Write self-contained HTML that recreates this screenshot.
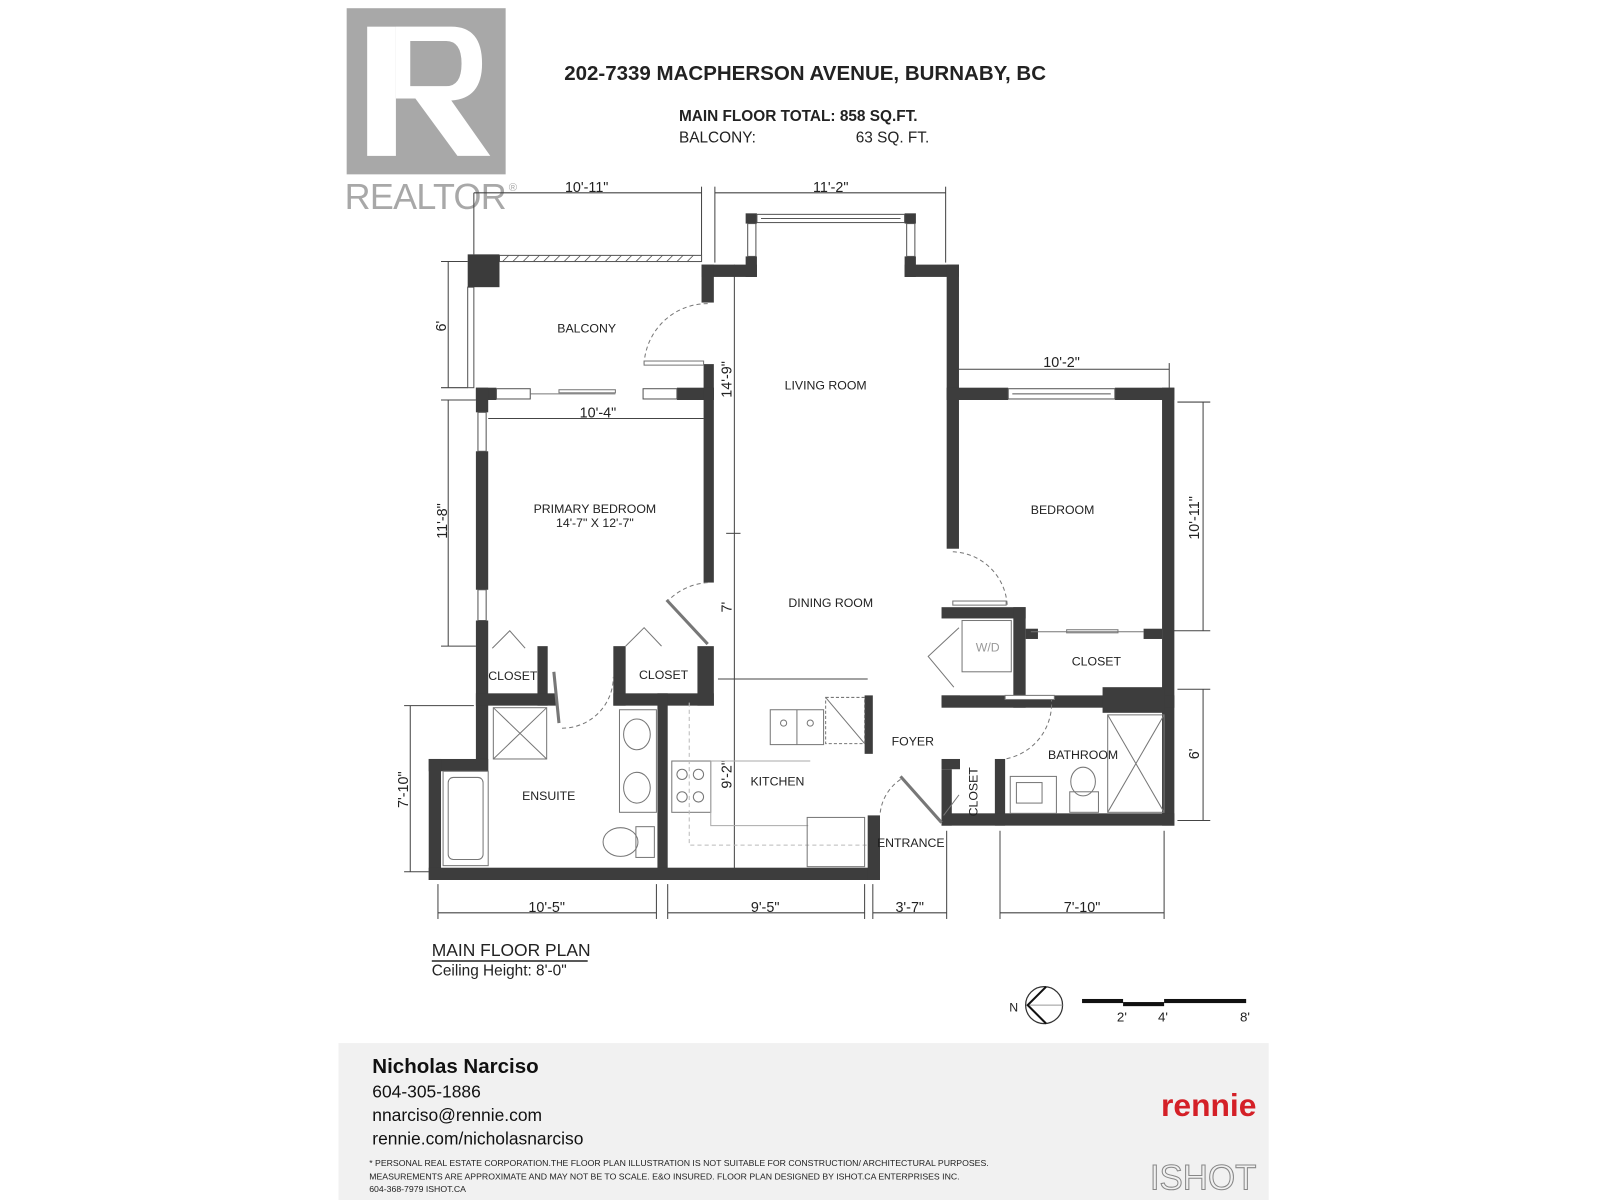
<!DOCTYPE html>
<html><head><meta charset="utf-8"><style>
html,body{margin:0;padding:0;background:#fff;}
svg{display:block}
text{font-family:"Liberation Sans",sans-serif;}
.n{font-family:"Liberation Sans Narrow","Liberation Sans",sans-serif;}
</style></head><body>
<svg width="1600" height="1200" viewBox="0 0 1560 1170" xmlns="http://www.w3.org/2000/svg">
<rect width="1560" height="1170" fill="#fff"/>
<!-- Realtor logo -->
<rect x="338" y="8" width="155" height="162" fill="#a8a8a8"/>
<rect x="358" y="26" width="28" height="126" fill="#fff"/>
<path d="M386 26 H440 Q470 26 470 62 Q470 96 440 98 L478 152 H446 L405 96 H386 Z" fill="#fff"/>
<path d="M400 40 H435 Q450 40 450 62 Q450 84 435 84 H400 Z" fill="#a8a8a8"/>
<text x="336" y="204" font-size="35" fill="#a8a8a8" textLength="158">REALTOR</text>
<text x="496" y="186" font-size="11" fill="#a8a8a8">®</text>
<!-- Title -->
<text x="785" y="78" font-size="20" font-weight="bold" text-anchor="middle" class="n" fill="#222">202-7339 MACPHERSON AVENUE, BURNABY, BC</text>
<text x="662" y="118" font-size="15" font-weight="bold" class="n" fill="#222">MAIN FLOOR TOTAL:  858 SQ.FT.</text>
<text x="662" y="139" font-size="15" class="n" fill="#222">BALCONY:</text>
<text x="906" y="139" font-size="15" class="n" text-anchor="end" fill="#222">63 SQ. FT.</text>

<g stroke="#444" stroke-width="1" fill="none">
<!-- dimension lines -->
<line x1="462" y1="188" x2="684" y2="188"/><line x1="462" y1="188" x2="462" y2="248"/><line x1="684" y1="182" x2="684" y2="255"/>
<line x1="697" y1="188" x2="922" y2="188"/><line x1="697" y1="182" x2="697" y2="256"/><line x1="922" y1="182" x2="922" y2="256"/>
<line x1="437" y1="255" x2="437" y2="378"/><line x1="430" y1="255" x2="456" y2="255"/><line x1="430" y1="378" x2="456" y2="378"/>
<line x1="437" y1="390" x2="437" y2="630"/><line x1="430" y1="390" x2="464" y2="390"/><line x1="430" y1="630" x2="464" y2="630"/>
<line x1="400" y1="688" x2="400" y2="850"/><line x1="394" y1="688" x2="462" y2="688"/><line x1="394" y1="850" x2="418" y2="850"/>
<line x1="716" y1="258" x2="716" y2="852"/><line x1="708" y1="520" x2="722" y2="520"/><line x1="700" y1="662" x2="846" y2="662"/>
<line x1="476" y1="408" x2="686" y2="408"/>
<line x1="935" y1="360" x2="1140" y2="360"/><line x1="1140" y1="354" x2="1140" y2="378"/>
<line x1="1173" y1="392" x2="1173" y2="615"/><line x1="1148" y1="392" x2="1180" y2="392"/><line x1="1140" y1="615" x2="1180" y2="615"/>
<line x1="1173" y1="672" x2="1173" y2="800"/><line x1="1148" y1="672" x2="1180" y2="672"/><line x1="1148" y1="800" x2="1180" y2="800"/>
<line x1="427" y1="890" x2="640" y2="890"/><line x1="651" y1="890" x2="843" y2="890"/><line x1="851" y1="890" x2="923" y2="890"/><line x1="975" y1="890" x2="1135" y2="890"/>
<line x1="427" y1="862" x2="427" y2="896"/><line x1="640" y1="862" x2="640" y2="896"/><line x1="651" y1="862" x2="651" y2="896"/><line x1="843" y1="862" x2="843" y2="896"/><line x1="851" y1="862" x2="851" y2="896"/><line x1="923" y1="810" x2="923" y2="896"/><line x1="975" y1="810" x2="975" y2="896"/><line x1="1135" y1="810" x2="1135" y2="896"/>
</g>
<!-- dimension labels -->
<g font-size="14" fill="#222" text-anchor="middle">
<text x="572" y="187">10'-11"</text><text x="810" y="187">11'-2"</text>
<text x="583" y="407">10'-4"</text><text x="1035" y="358">10'-2"</text>
<text x="533" y="889">10'-5"</text><text x="746" y="889">9'-5"</text><text x="887" y="889">3'-7"</text><text x="1055" y="889">7'-10"</text>
<text transform="translate(435,318) rotate(-90)">6'</text>
<text transform="translate(436,508) rotate(-90)">11'-8"</text>
<text transform="translate(398,770) rotate(-90)">7'-10"</text>
<text transform="translate(713,370) rotate(-90)">14'-9"</text>
<text transform="translate(713,592) rotate(-90)">7'</text>
<text transform="translate(713,755) rotate(-90)">9'-2"</text>
<text transform="translate(1169,505) rotate(-90)">10'-11"</text>
<text transform="translate(1169,735) rotate(-90)">6'</text>
</g>

<!-- balcony -->
<rect x="487" y="249" width="197" height="6" fill="#fff" stroke="#555" stroke-width="1"/>
<path d="M490 255 l6 -6 M500 255 l6 -6 M510 255 l6 -6 M520 255 l6 -6 M530 255 l6 -6 M540 255 l6 -6 M550 255 l6 -6 M560 255 l6 -6 M570 255 l6 -6 M580 255 l6 -6 M590 255 l6 -6 M600 255 l6 -6 M610 255 l6 -6 M620 255 l6 -6 M630 255 l6 -6 M640 255 l6 -6 M650 255 l6 -6 M660 255 l6 -6 M670 255 l6 -6" stroke="#555" stroke-width="0.8"/>
<rect x="456" y="280" width="6" height="98" fill="#fff" stroke="#555"/>
<rect x="456" y="248" width="31" height="32" fill="#3b3b3b"/>

<!-- walls -->
<g fill="#3d3d3d">
<!-- living room top -->
<rect x="727" y="208" width="11" height="10"/><rect x="882" y="208" width="11" height="10"/>
<rect x="727" y="250" width="11" height="20"/><rect x="684" y="258" width="54" height="12"/><rect x="684" y="258" width="12" height="37"/>
<rect x="882" y="250" width="11" height="20"/><rect x="882" y="258" width="53" height="12"/><rect x="923" y="258" width="12" height="277"/>
<!-- primary bedroom -->
<rect x="464" y="378" width="20" height="12"/><rect x="660" y="378" width="36" height="12"/><rect x="686" y="355" width="10" height="35"/>
<rect x="464" y="378" width="12" height="24"/><rect x="464" y="440" width="12" height="135"/><rect x="464" y="605" width="12" height="147"/>
<rect x="686" y="378" width="10" height="190"/>
<!-- closets -->
<rect x="524" y="630" width="10" height="58"/><rect x="464" y="676" width="78" height="12"/>
<rect x="598" y="630" width="12" height="58"/><rect x="598" y="676" width="98" height="12"/><rect x="680" y="630" width="16" height="58"/>
<rect x="641" y="676" width="10" height="182"/>
<!-- ensuite outer -->
<rect x="418" y="740" width="58" height="12"/><rect x="418" y="740" width="12" height="118"/><rect x="418" y="846" width="440" height="12"/>
<rect x="846" y="795" width="12" height="63"/><rect x="843" y="678" width="8" height="57"/>
<!-- right wing -->
<rect x="923" y="378" width="60" height="12"/><rect x="1087" y="378" width="58" height="12"/><rect x="1133" y="378" width="12" height="427"/>
<rect x="918" y="592" width="82" height="11"/><rect x="988" y="592" width="12" height="98"/><rect x="918" y="678" width="227" height="12"/>
<rect x="918" y="678" width="18" height="10"/><rect x="1000" y="613" width="12" height="10"/><rect x="1115" y="613" width="18" height="10"/>
<rect x="1075" y="670" width="60" height="25"/>
<rect x="918" y="740" width="18" height="10"/><rect x="970" y="740" width="10" height="65"/><rect x="918" y="793" width="227" height="12"/><rect x="918" y="750" width="10" height="55"/>
</g>
<!-- windows -->
<g fill="#fff" stroke="#555" stroke-width="1">
<rect x="738" y="209" width="144" height="8"/><line x1="742" y1="213" x2="878" y2="213"/>
<rect x="729" y="218" width="8" height="32"/><rect x="884" y="218" width="8" height="32"/>
<rect x="484" y="379" width="33" height="10"/><rect x="627" y="379" width="33" height="10"/>
<rect x="466" y="402" width="8" height="38"/><rect x="466" y="575" width="8" height="30"/>
<rect x="983" y="379" width="104" height="10"/><line x1="987" y1="384" x2="1083" y2="384"/>
</g>
<g stroke="#777" stroke-width="1" fill="none">
<line x1="517" y1="384" x2="600" y2="384"/><rect x="545" y="380" width="55" height="3"/>
<!-- door arcs -->
<path d="M690 296 A62 62 0 0 0 628 355" stroke-dasharray="4 3"/>
<path d="M690 568 A60 60 0 0 0 652 585" stroke-dasharray="4 3"/>
<path d="M548 710 A50 50 0 0 0 598 660" stroke-dasharray="4 3"/>
<path d="M929 538 A55 55 0 0 1 982 590" stroke-dasharray="4 3"/>
<path d="M1025 680 A55 55 0 0 1 980 740" stroke-dasharray="4 3"/>
<path d="M878 760 A45 45 0 0 0 858 795" stroke-dasharray="4 3"/>
<!-- doors -->
<rect x="628" y="352" width="58" height="4" fill="#fff"/>
<rect x="929" y="586" width="52" height="4" fill="#fff"/>
<rect x="980" y="678" width="48" height="4" fill="#fff"/>
<line x1="650" y1="585" x2="690" y2="628" stroke-width="3"/>
<line x1="540" y1="655" x2="545" y2="705" stroke-width="3"/>
<line x1="878" y1="757" x2="918" y2="802" stroke-width="3"/>
<path d="M480 632 L497 615 L512 632 M610 630 L628 612 L645 630 M935 612 L905 640 L930 670 M935 775 L920 795"/>
<!-- closet rod -->
<line x1="1005" y1="616" x2="1115" y2="616"/><rect x="1040" y="614" width="50" height="3"/>
<!-- fixtures -->
<rect x="481" y="690" width="52" height="50"/><path d="M481 690 L533 740 M533 690 L481 740"/>
<rect x="432" y="752" width="44" height="92"/><rect x="437" y="758" width="34" height="80" rx="5"/>
<rect x="604" y="692" width="36" height="100"/><ellipse cx="621" cy="716" rx="13" ry="15"/><ellipse cx="621" cy="768" rx="13" ry="15"/>
<rect x="620" y="806" width="18" height="30"/><ellipse cx="605" cy="821" rx="17" ry="14"/>
<rect x="751" y="692" width="52" height="34"/><line x1="777" y1="692" x2="777" y2="726"/><circle cx="764" cy="705" r="3"/><circle cx="790" cy="705" r="3"/>
<rect x="805" y="680" width="38" height="45" stroke-dasharray="3 2"/><path d="M805 680 L843 725"/>
<rect x="655" y="742" width="38" height="50"/><circle cx="665" cy="755" r="5"/><circle cx="681" cy="755" r="5"/><circle cx="665" cy="777" r="5"/><circle cx="681" cy="777" r="5"/>
<path d="M693 742 V805 H788 M693 742 H790" stroke="#aaa"/>
<path d="M672 685 V824 H846" stroke="#bbb" stroke-dasharray="4 3"/>
<rect x="787" y="797" width="56" height="48"/>
<rect x="938" y="605" width="48" height="50"/>
<rect x="1080" y="697" width="55" height="95"/><path d="M1080 697 L1135 792 M1135 697 L1080 792"/>
<rect x="985" y="757" width="45" height="36"/><rect x="991" y="763" width="25" height="20"/>
<ellipse cx="1056" cy="762" rx="12" ry="14"/><rect x="1043" y="772" width="28" height="20"/>
</g>

<!-- room labels -->
<g font-size="12" fill="#222" text-anchor="middle">
<text x="572" y="324">BALCONY</text><text x="805" y="380">LIVING ROOM</text>
<text x="580" y="500">PRIMARY BEDROOM</text><text x="580" y="514">14'-7" X 12'-7"</text>
<text x="810" y="592">DINING ROOM</text><text x="1036" y="501">BEDROOM</text>
<text x="500" y="663">CLOSET</text><text x="647" y="662">CLOSET</text><text x="1069" y="649">CLOSET</text>
<text x="963" y="635" fill="#999">W/D</text><text x="890" y="727">FOYER</text><text x="1056" y="740">BATHROOM</text>
<text x="758" y="766">KITCHEN</text><text x="535" y="780">ENSUITE</text><text x="888" y="826">ENTRANCE</text>
<text transform="translate(953,772) rotate(-90)">CLOSET</text>
</g>

<text x="421" y="932" font-size="17" fill="#222">MAIN FLOOR PLAN</text>
<line x1="421" y1="937" x2="573" y2="937" stroke="#222" stroke-width="1.5"/>
<text x="421" y="951" font-size="15" fill="#222">Ceiling Height: 8'-0"</text>

<!-- north + scale -->
<circle cx="1018" cy="980" r="18" fill="none" stroke="#333" stroke-width="1.2"/>
<path d="M1020 962 L1002 980 L1020 998" fill="none" stroke="#111" stroke-width="2"/><line x1="1004" y1="980" x2="1036" y2="980" stroke="#999"/>
<text x="984" y="986" font-size="12" fill="#222">N</text>
<rect x="1055" y="974" width="40" height="4" fill="#111"/><rect x="1095" y="977" width="40" height="4" fill="#111"/><rect x="1135" y="974" width="80" height="4" fill="#111"/>
<text x="1089" y="996" font-size="13" fill="#222">2'</text><text x="1129" y="996" font-size="13" fill="#222">4'</text><text x="1209" y="996" font-size="13" fill="#222">8'</text>

<!-- footer -->
<rect x="330" y="1017" width="907" height="153" fill="#f1f1f1"/>
<text x="363" y="1046" font-size="20" font-weight="bold" fill="#111">Nicholas Narciso</text>
<text x="363" y="1070" font-size="17" fill="#111">604-305-1886</text>
<text x="363" y="1093" font-size="17" fill="#111">nnarciso@rennie.com</text>
<text x="363" y="1116" font-size="17" fill="#111">rennie.com/nicholasnarciso</text>
<g font-size="8.5" fill="#222" class="n">
<text x="360" y="1137">* PERSONAL REAL ESTATE CORPORATION.THE FLOOR PLAN ILLUSTRATION IS NOT SUITABLE FOR CONSTRUCTION/ ARCHITECTURAL PURPOSES.</text>
<text x="360" y="1150">MEASUREMENTS ARE APPROXIMATE AND MAY NOT BE TO SCALE. E&amp;O INSURED. FLOOR PLAN DESIGNED BY ISHOT.CA ENTERPRISES INC.</text>
<text x="360" y="1162">604-368-7979  ISHOT.CA</text>
</g>
<text x="1225" y="1088" font-size="31" font-weight="bold" fill="#d42027" text-anchor="end">rennie</text>
<text x="1225" y="1160" font-size="34" fill="none" stroke="#888" stroke-width="1" text-anchor="end" font-family="Liberation Serif,serif">ISHOT</text>
</svg>
</body></html>
